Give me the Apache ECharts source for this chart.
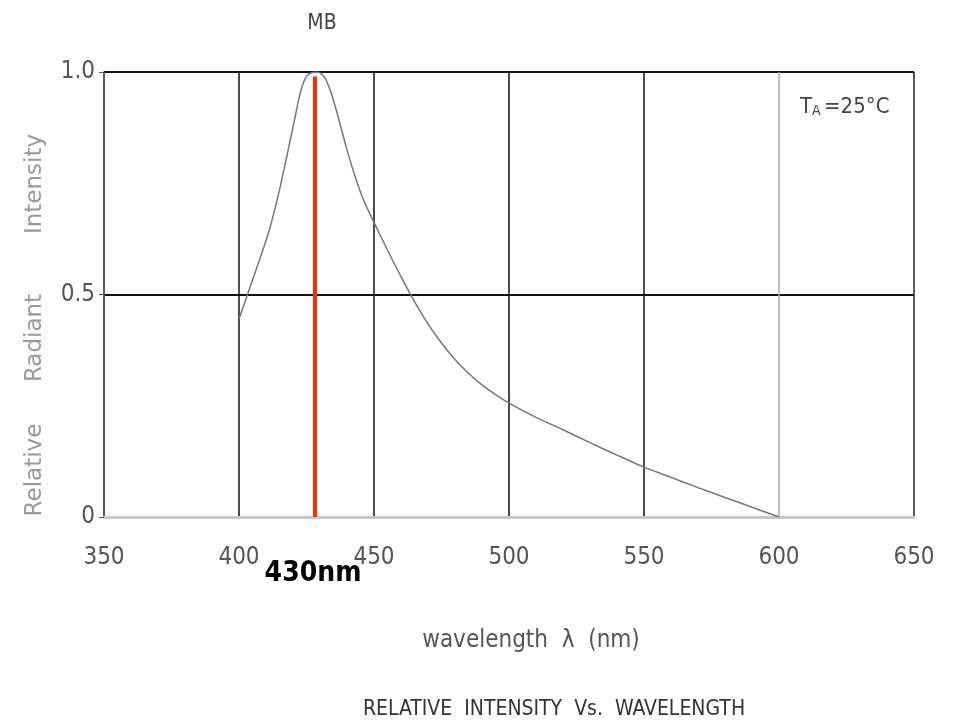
<!DOCTYPE html>
<html>
<head>
<meta charset="utf-8">
<script src="https://cdn.jsdelivr.net/npm/echarts@6/dist/echarts.min.js"></script>
<style>
  html, body { margin: 0; padding: 0; background: #fff; }
  #chart { width: 964px; height: 722px; }
</style>
</head>
<body>
<div id="chart"></div>
<script>
// spectrum
const wavelengths = [400, 404, 408, 411, 413, 415, 417, 419, 421, 422, 423, 424, 425, 426, 428, 430, 432, 434, 436, 438, 440, 443, 446, 450, 455, 460, 465, 470, 475, 480, 485, 490, 495, 500, 510, 520, 530, 540, 550, 560, 570, 580, 590, 600];
const intensity = [0.445, 0.515, 0.585, 0.64, 0.685, 0.735, 0.79, 0.848, 0.905, 0.935, 0.96, 0.978, 0.99, 0.996, 1.0, 0.998, 0.985, 0.955, 0.915, 0.87, 0.825, 0.765, 0.714, 0.662, 0.6, 0.54, 0.484, 0.434, 0.391, 0.354, 0.323, 0.297, 0.275, 0.256, 0.224, 0.196, 0.167, 0.139, 0.112, 0.089, 0.066, 0.044, 0.022, 0.0];
const peakWavelength = [428];
const peakLabel = '430nm';

const FONT = '"Liberation Sans Narrow", "DejaVu Sans Condensed", sans-serif';

const chartDom = document.getElementById('chart');
const myChart = echarts.init(chartDom);

const curve = wavelengths.map((w, i) => [w, intensity[i]]);

const option = {
    animation: false,
    backgroundColor: '#fff',
    grid: { left: 104, right: 50, top: 72, bottom: 205 },
    title: [
        {
            text: 'MB',
            left: 317, top: 8, textAlign: 'center',
            textStyle: { fontFamily: FONT, fontWeight: 'normal', fontSize: 21, color: '#444' }
        },
        {
            text: 'RELATIVE  INTENSITY  Vs.  WAVELENGTH',
            left: 549, top: 694, textAlign: 'center',
            textStyle: { fontFamily: FONT, fontWeight: 'normal', fontSize: 21, color: '#333' }
        }
    ],
    xAxis: {
        type: 'value',
        min: 350, max: 650, interval: 50,
        name: 'wavelength  λ  (nm)',
        nameLocation: 'middle',
        nameGap: 112,
        nameTextStyle: { fontFamily: FONT, fontSize: 24, color: '#555', padding: [0, 0, 0, 44] },
        axisLine: { lineStyle: { color: '#c8c8c8', width: 3 } },
        axisTick: { show: false },
        axisLabel: { margin: 29, fontFamily: FONT, fontSize: 24, color: '#555' },
        splitLine: {
            lineStyle: { color: ['#444', '#111', '#111', '#111', '#111', '#aaa', '#222'], width: 1.5 }
        }
    },
    yAxis: {
        type: 'value',
        min: 0, max: 1, interval: 0.5,
        axisLine: { show: true, lineStyle: { color: '#555', width: 1.5 } },
        axisTick: { show: true, length: 5, lineStyle: { color: '#555' } },
        axisLabel: {
            margin: 9, fontFamily: FONT, fontSize: 24, color: '#555',
            formatter: v => (v === 0 ? '0' : v.toFixed(1))
        },
        splitLine: { showMinLine: false, lineStyle: { color: '#111', width: 1.8 } }
    },
    graphic: [
        { type: 'text', x: 35, y: 470, rotation: Math.PI / 2, style: { text: 'Relative', font: '23px "DejaVu Sans"', fill: '#999', align: 'center', verticalAlign: 'middle' } },
        { type: 'text', x: 35, y: 338, rotation: Math.PI / 2, style: { text: 'Radiant', font: '23px "DejaVu Sans"', fill: '#999', align: 'center', verticalAlign: 'middle' } },
        { type: 'text', x: 35, y: 184, rotation: Math.PI / 2, style: { text: 'Intensity', font: '23px "DejaVu Sans"', fill: '#999', align: 'center', verticalAlign: 'middle' } },
        {
            type: 'text', x: 800, y: 107,
            style: {
                text: '{t|T}{s|A} {t|=25°C}',
                rich: {
                    t: { fontFamily: FONT, fontSize: 22, fill: '#444' },
                    s: { fontFamily: FONT, fontSize: 14, fill: '#444', verticalAlign: 'bottom' }
                },
                verticalAlign: 'middle'
            }
        },
        {
            type: 'text', x: 313, y: 574,
            style: { text: peakLabel, font: 'bold 28px ' + FONT, fill: '#000', align: 'center', verticalAlign: 'middle' }
        }
    ],
    series: [
        {
            type: 'line',
            data: curve,
            smooth: 0.25,
            showSymbol: false,
            lineStyle: { color: '#777', width: 1.5 },
            z: 3,
            markLine: {
                silent: true,
                symbol: 'none',
                label: { show: false },
                lineStyle: { color: '#ff2a00', width: 4, type: 'solid' },
                data: peakWavelength.map(w => [{ coord: [w, 0] }, { coord: [w, 0.99] }])
            }
        }
    ]
};

option && myChart.setOption(option);
</script>
</body>
</html>
